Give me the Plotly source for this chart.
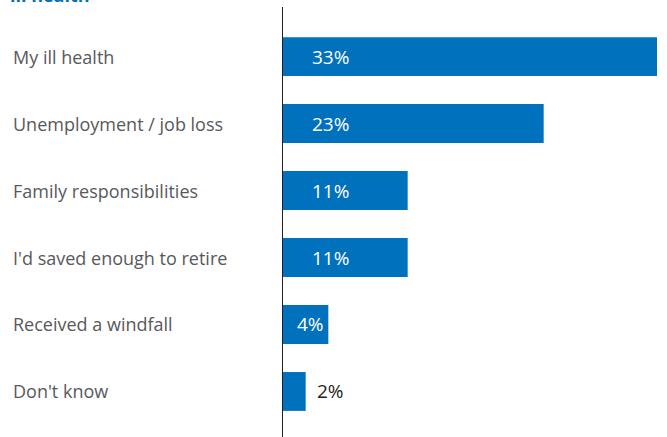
import plotly.graph_objects as go

# Reasons for stopping work
categories = [
    "My ill health",
    "Unemployment / job loss",
    "Family responsibilities",
    "I'd saved enough to retire",
    "Received a windfall",
    "Don't know",
]
values = [33, 23, 11, 11, 4, 2]
value_labels = ["33%", "23%", "11%", "11%", "4%", "2%"]
label_colors = ["white", "white", "white", "white", "white", "#231f20"]

BLUE = "#0071bc"
GREY = "#58595b"
FONT = "Open Sans, DejaVu Sans, sans-serif"

idx = list(range(len(categories)))

fig = go.Figure(
    go.Bar(
        x=values,
        y=idx,
        orientation="h",
        marker=dict(color=BLUE, line=dict(width=0)),
        width=0.58,
        hoverinfo="skip",
    )
)

annotations = []
# category names, left aligned in the left margin
for i, name in zip(idx, categories):
    annotations.append(dict(
        x=-0.727, xref="paper", y=i, yref="y",
        text=name, showarrow=False, xanchor="left", yanchor="middle",
        font=dict(family=FONT, size=18, color=GREY),
    ))
# percentage labels in a column near the axis; a white label on a bar
# too short to hold it there is tucked against the bar end instead
for i, v, lab, col in zip(idx, values, value_labels, label_colors):
    if col == "white" and v < 8:
        pos = dict(x=v, xref="x", xanchor="right", xshift=-2)
    else:
        pos = dict(x=0.128, xref="paper", xanchor="center", xshift=0)
    annotations.append(dict(
        y=i, yref="y", text=lab, showarrow=False, yanchor="middle",
        font=dict(family=FONT, size=19, color=col, weight=500),
        **pos,
    ))
# section heading, running off the top edge
annotations.append(dict(
    x=-0.735, xref="paper", y=1.0, yref="paper", yshift=-2,
    text="<b>ill health</b>", showarrow=False, xanchor="left", yanchor="bottom",
    font=dict(family=FONT, size=18, color=BLUE),
))

fig.update_layout(
    width=667,
    height=437,
    margin=dict(l=283, r=10, t=7, b=0),
    paper_bgcolor="white",
    plot_bgcolor="white",
    showlegend=False,
    bargap=0.42,
    annotations=annotations,
    xaxis=dict(range=[0, 33], visible=False, fixedrange=True),
    yaxis=dict(
        range=[5.68, -0.74],
        showticklabels=False,
        showgrid=False,
        zeroline=False,
        showline=True,
        linecolor="#231f20",
        linewidth=1.3,
        ticks="",
        fixedrange=True,
    ),
)

fig.write_html("out.html")
